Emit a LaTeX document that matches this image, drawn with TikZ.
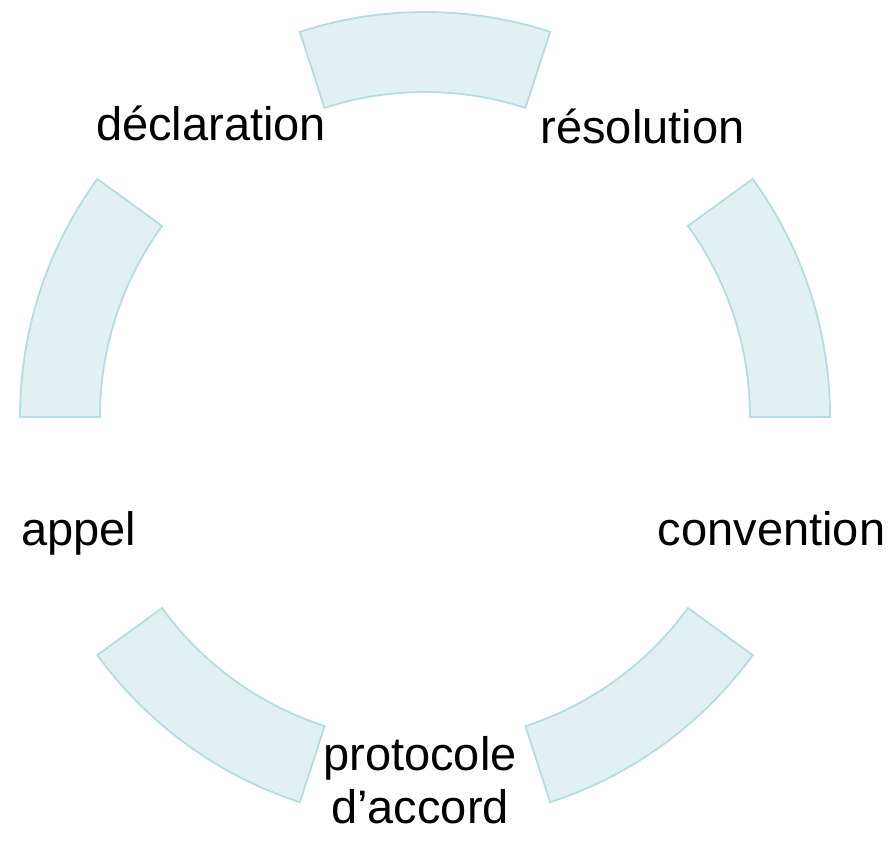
\documentclass[tikz,border=0pt]{standalone}
\usepackage{fontspec}
\setmainfont{Liberation Sans}
\definecolor{segfill}{HTML}{E1F1F2}
\definecolor{segline}{HTML}{B3DDE1}
\tikzset{
  seg/.style={fill=segfill, draw=segline, line width=1.8pt, line join=miter},
  lbl/.style={anchor=base, inner sep=0pt, font=\fontsize{47}{53}\selectfont, text=black},
}
\newcommand{\segment}[2]{%
  \draw[seg, shift={(C)}] (#1:405) arc[start angle=#1, end angle=#2, radius=405]
    -- (#2:325) arc[start angle=#2, end angle=#1, radius=325] -- cycle;}
\begin{document}
\begin{tikzpicture}[x=1pt, y=1pt]
\useasboundingbox (0,0) rectangle (894,-844);
\coordinate (C) at (425,-417);
\segment{72}{108}
\segment{0}{36}
\segment{-72}{-36}
\segment{-144}{-108}
\segment{144}{180}
\node[lbl] (decl) at (211,-140) {déclaration};
\node[lbl] (reso) at (642.5,-143) {résolution};
\node[lbl] (conv) at (771.5,-545) {convention};
\node[lbl] (appel) at (78.5,-545) {appel};
\node[lbl, align=center, anchor=base] (proto) at (420,-823) {protocole\\d’accord};
\end{tikzpicture}
\end{document}
